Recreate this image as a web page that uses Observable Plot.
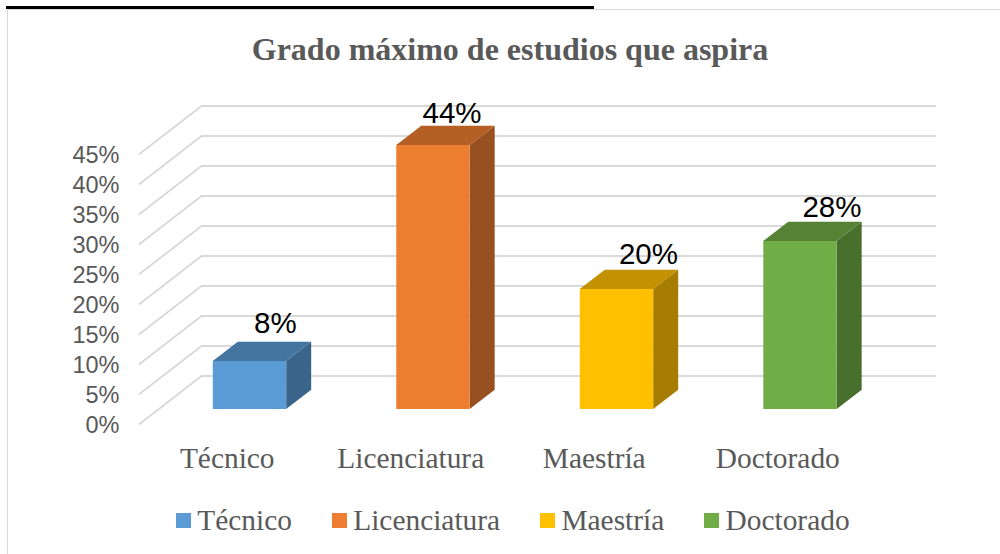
<!DOCTYPE html>
<html lang="es">
<head>
<meta charset="utf-8">
<title>Grado máximo de estudios que aspira</title>
<script src="https://cdn.jsdelivr.net/npm/d3@7"></script>
<script src="https://cdn.jsdelivr.net/npm/@observablehq/plot@0.6"></script>
<style>
  html, body { margin: 0; padding: 0; background: #fff; overflow: hidden; }
  body { width: 1000px; height: 554px; position: relative; }
  .frame-top { position: absolute; left: 7px; right: 0; top: 9px; height: 1px; background: #d9d9d9; }
  .frame-left { position: absolute; left: 7px; top: 9px; bottom: 0; width: 1px; background: #d9d9d9; }
  .frame-bar { position: absolute; left: 6px; top: 6px; width: 588px; height: 3px; background: #000; }
  #title { height: 80px; box-sizing: border-box; padding-top: 30px; padding-left: 20px; text-align: center;
    font: bold 32px/38px "Liberation Serif", serif; color: #595959; }
  #chart { height: 420px; }
  #chart svg { display: block; overflow: visible; }
  #legend { display: flex; align-items: center; height: 40px; padding-left: 176px; margin-top: 0;
    font: 29.4px/40px "Liberation Serif", serif; color: #595959; }
  #legend .item { display: flex; align-items: center; margin-right: 40px; }
  #legend .swatch { width: 15px; height: 15px; margin-right: 6.3px; }
</style>
</head>
<body>
<div class="frame-top"></div><div class="frame-left"></div><div class="frame-bar"></div>
<div id="title">Grado máximo de estudios que aspira</div>
<div id="chart"></div>
<div id="legend"></div>
<script>
const categories = ["Técnico", "Licenciatura", "Maestría", "Doctorado"];
const values = [8, 44, 20, 28];
const frontColors = ["#5b9bd5", "#ed7d31", "#ffc000", "#70ad47"];
const topColors = ["#4475a1", "#b55f25", "#c29200", "#558235"];
const sideColors = ["#3a6489", "#97501f", "#a67d00", "#486f2d"];
const yTicks = [0, 5, 10, 15, 20, 25, 30, 35, 40, 45];
const labelShiftX = [-0.003, -0.04, 0.03, 0.03];
const labelShiftY = [1.5, 0.5, 1, 0.8];

// Depth axis: z runs from the front floor edge (0) to the back wall (1).
const depthX = 0.338, depthY = 8;
const barZ0 = 0.302, barZ1 = 0.705, barWidth = 0.4;
const px = (slot, z) => slot + z * depthX;
const py = (v, z) => v + z * depthY;

const slots = categories.map((name, i) => {
  const xl = i + 0.5 - barWidth / 2 + 0.0, xr = xl + barWidth;
  return {name, i, v: values[i], xl, xr};
});

const grid = yTicks.flatMap(t => [
  {t, x: px(0, 0), y: py(t, 0)},
  {t, x: px(0, 1), y: py(t, 1)},
  {t, x: px(4, 1), y: py(t, 1)}
]);

const sideFaces = slots.flatMap(b => [
  {i: b.i, x: px(b.xr, barZ0), y1: py(0, barZ0), y2: py(b.v, barZ0)},
  {i: b.i, x: px(b.xr, barZ1), y1: py(0, barZ1), y2: py(b.v, barZ1)}
]);

const topFaces = slots.flatMap(b => {
  const lo = py(b.v, barZ0), hi = py(b.v, barZ1);
  return [
    {i: b.i, x: px(b.xl, barZ0), y1: lo, y2: lo},
    {i: b.i, x: px(b.xl, barZ1), y1: lo, y2: hi},
    {i: b.i, x: px(b.xr, barZ0), y1: lo, y2: hi},
    {i: b.i, x: px(b.xr, barZ1), y1: hi, y2: hi}
  ];
});

const plot = Plot.plot({
  width: 1000,
  height: 420,
  marginLeft: 139,
  marginRight: 127,
  marginTop: 73.5,
  marginBottom: 76.5,
  style: {background: "transparent", overflow: "visible"},
  x: {type: "linear", domain: [0, 4], axis: null},
  y: {type: "linear", domain: [0, 45], axis: null},
  marks: [
    Plot.line(grid, {x: "x", y: "y", z: "t", stroke: "#d9d9d9", strokeWidth: 1.8, curve: "linear"}),
    Plot.axisY({ticks: yTicks, tickFormat: d => d + "%", tickSize: 0, tickPadding: 20, dy: 1, label: null,
      fontSize: 23.5, fontFamily: "Liberation Sans, Arial, sans-serif", color: "#595959", fill: "#595959"}),
    Plot.axisX({ticks: categories.map((_, i) => i + 0.5), tickFormat: d => categories[d - 0.5], tickSize: 0,
      tickPadding: 23, label: null, dx: -4, fontSize: 29.4, fontFamily: "Liberation Serif, serif", fill: "#595959"}),
    Plot.areaY(sideFaces, {x: "x", y1: "y1", y2: "y2", z: "i", fill: d => sideColors[d.i], curve: "linear"}),
    Plot.areaY(topFaces, {x: "x", y1: "y1", y2: "y2", z: "i", fill: d => topColors[d.i], curve: "linear"}),
    Plot.rect(slots, {
      x1: d => px(d.xl, barZ0), x2: d => px(d.xr, barZ0),
      y1: () => py(0, barZ0), y2: d => py(d.v, barZ0),
      fill: d => frontColors[d.i]
    }),
    Plot.text(slots, {
      x: d => px(d.i + 0.5, 0.72) + labelShiftX[d.i],
      y: d => py(d.v, barZ1) + labelShiftY[d.i],
      text: d => d.v + "%",
      lineAnchor: "bottom",
      fontSize: 29.5,
      fontFamily: "Liberation Sans, Arial, sans-serif",
      fill: "#000"
    })
  ]
});
document.getElementById("chart").append(plot);

const legend = d3.select("#legend").selectAll(".item").data(categories).join("div").attr("class", "item");
legend.append("div").attr("class", "swatch").style("background", (d, i) => frontColors[i]);
legend.append("span").text(d => d);
</script>
</body>
</html>
